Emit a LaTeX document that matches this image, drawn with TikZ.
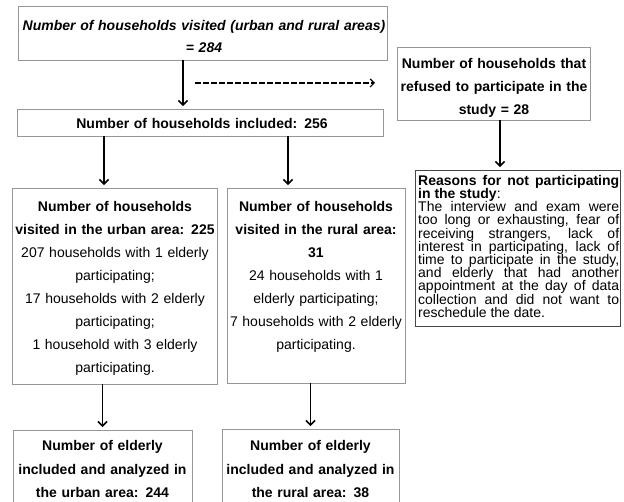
\documentclass[tikz,border=0pt]{standalone}
\usepackage{fontspec}
\setmainfont{Liberation Sans}
\usetikzlibrary{arrows.meta}
\definecolor{boxgray}{RGB}{150,150,150}
\definecolor{boxdark}{RGB}{70,70,70}
\begin{document}
\begin{tikzpicture}[x=1pt,y=-1pt,
  box/.style={draw=boxgray, line width=0.9pt, inner sep=0pt},
  boxd/.style={draw=boxdark, line width=0.9pt, inner sep=0pt},
  txt/.style={inner sep=0pt, align=center, anchor=north, font=\fontsize{14}{#1}\selectfont},
  txt/.default=23,
  arr/.style={-{Straight Barb[length=4.5pt,width=9pt]}, line width=1.6pt, shorten >=2.5pt},
  darr/.style={-{Straight Barb[length=4pt,width=8pt]}, line width=1.2pt, dash pattern=on 5.5pt off 2.5pt}]
\useasboundingbox (0,0) rectangle (624,502);
\clip (0,0) rectangle (624,502);
% boxes
\node[box, minimum width=369pt, minimum height=54pt] (b1) at (202.5,33) {};
\node[box, minimum width=366pt, minimum height=27pt] (b2) at (200,122.5) {};
\node[box, minimum width=193pt, minimum height=73pt] (r1) at (493.5,83.5) {};
\node[boxd, minimum width=205pt, minimum height=156pt] (rs) at (517.5,248) {};
\node[box, minimum width=205pt, minimum height=196pt] (ub) at (115,286) {};
\node[box, minimum width=178pt, minimum height=195pt] (rb) at (316,285.5) {};
\node[box, minimum width=179pt, minimum height=90pt] (bl) at (102.5,475) {};
\node[box, minimum width=177pt, minimum height=90pt] (br) at (310.5,474) {};
% texts
\node[txt=22, text width=365pt] (t1) at (204,20.4)
  {\bfseries\itshape Number of households visited (urban and rural areas)\\= 284};
\node[txt, text width=360pt] (t2) at (202,118.4)
  {\bfseries Number of households included: 256};
\node[txt, text width=190pt] (tr) at (494,58.4)
  {\bfseries Number of households that\\refused to participate in the\\study = 28};
\node[txt, text width=203pt] (tu) at (115,201.4)
  {\textbf{Number of households}\\\textbf{visited in the urban area: 225}\\207 households with 1 elderly\\participating;\\17 households with 2 elderly\\participating;\\1 household with 3 elderly\\participating.};
\node[txt, text width=176pt] (tru) at (316,201.4)
  {\textbf{Number of households}\\\textbf{visited in the rural area:}\\\textbf{31}\\24 households with 1\\elderly participating;\\7 households with 2 elderly\\participating.};
\node[txt=23.5, text width=177pt] (tbl) at (102.5,440.6)
  {\bfseries Number of elderly\\included and analyzed in\\the urban area: 244};
\node[txt=23.5, text width=175pt] (tbr) at (310.5,440.6)
  {\bfseries Number of elderly\\included and analyzed in\\the rural area: 38};
\node[inner sep=0pt, anchor=north west, text width=201pt, align=justify,
      font=\fontsize{14}{13.2}\selectfont] (trs) at (418,174.9)
  {\tolerance=10000\hbadness=10000\lineskiplimit=-20pt\lineskip=0pt\parindent=0pt
   {\bfseries Reasons for not participating\linebreak in the study}:\par
   The interview and exam were\linebreak too long or exhausting, fear of\linebreak
   receiving strangers, lack of\linebreak interest in participating, lack of\linebreak
   time to participate in the study,\linebreak and elderly that had another\linebreak
   appointment at the day of data\linebreak collection and did not want to\linebreak
   reschedule the date.};
% connectors
\draw[arr] ([xshift=-19.5pt]b1.south) -- ([xshift=-19.5pt]b1.south |- b2.north);
\coordinate (d1) at (195,83);
\coordinate (d2) at (375,83);
\draw[darr] (d1) -- (d2);
\draw[arr] ([xshift=-11pt]ub.north |- b2.south) -- ([xshift=-11pt]ub.north);
\draw[arr] ([xshift=-28pt]rb.north |- b2.south) -- ([xshift=-28pt]rb.north);
\draw[arr] ([xshift=6.5pt]r1.south) -- ([xshift=6.5pt]r1.south |- rs.north);
\draw[arr] (bl.north |- ub.south) -- (bl.north);
\draw[arr] (br.north |- rb.south) -- (br.north);
\end{tikzpicture}
\end{document}
